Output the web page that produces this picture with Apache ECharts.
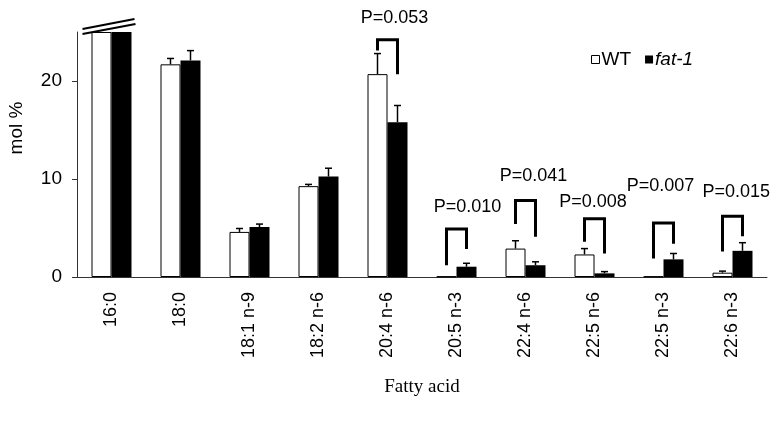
<!DOCTYPE html>
<html><head><meta charset="utf-8">
<script src="https://cdn.jsdelivr.net/npm/echarts@6/dist/echarts.min.js"></script>
<style>html,body{margin:0;padding:0;background:#fff}#c{width:784px;height:424px}</style>
</head><body><div id="c"></div>
<script>
const categories = ['16:0','18:0','18:1 n-9','18:2 n-6','20:4 n-6','20:5 n-3','22:4 n-6','22:5 n-6','22:5 n-3','22:6 n-3'];
const wtValues  = [25, 21.7, 4.6, 9.27, 20.7, 0.05, 2.9, 2.3, 0.05, 0.44];
const wtErr     = [0, 0.6, 0.35, 0.18, 2.1, 0, 0.8, 0.6, 0, 0.16];
const fatValues = [25, 22.1, 5.1, 10.25, 15.8, 1.05, 1.2, 0.37, 1.8, 2.67];
const fatErr    = [0, 1.0, 0.3, 0.85, 1.7, 0.35, 0.35, 0.18, 0.6, 0.83];
const yTicks = [0, 10, 20];
// significance brackets: category index, left foot, top, right foot, label height, label
const sigCat   = [4, 5, 6, 7, 8, 9];
const sigLeft  = [23.1, 1.2, 5.4, 3.6, 1.9, 2.6];
const sigTop   = [24.2, 4.9, 7.8, 5.95, 5.5, 6.2];
const sigRight = [20.7, 2.85, 4.1, 2.4, 3.4, 4.15];
const sigLabelY = [26.4, 7.1, 10.35, 7.7, 9.3, 8.66];
const sigText  = ['P=0.053','P=0.010','P=0.041','P=0.008','P=0.007','P=0.015'];

const labelDx = [7, 11, 8, -1.5, -3, 3.7];
const FONT = 'Liberation Sans, Arial, sans-serif';
const BAR_W = 20;

const chart = echarts.init(document.getElementById('c'));

function errSeries(vals, errs, side) {
  return {
    type: 'custom', z: 5, clip: false,
    data: vals.map((v, i) => [i, v, v + errs[i], errs[i]]),
    renderItem: function (params, api) {
      if (api.value(3) <= 0) return null;
      const base = api.coord([api.value(0), api.value(1)]);
      const top = api.coord([api.value(0), api.value(2)]);
      const x = base[0] + side * BAR_W / 2;
      return { type: 'group', children: [
        { type: 'line', shape: { x1: x, y1: base[1], x2: x, y2: top[1] }, style: { stroke: '#000', lineWidth: 1.5 } },
        { type: 'line', shape: { x1: x - 3.5, y1: top[1], x2: x + 3.5, y2: top[1] }, style: { stroke: '#000', lineWidth: 1.5 } }
      ]};
    }
  };
}

const sigData = sigCat.map((c, i) => [c, sigLeft[i], sigTop[i], sigRight[i], sigLabelY[i], i]);

chart.setOption({
  animation: false,
  textStyle: { fontFamily: FONT },
  grid: { left: 77, right: 17, top: 32, bottom: 147 },
  legend: {
    left: 586, top: 45, itemWidth: 8, itemHeight: 8, itemGap: 14,
    icon: 'rect',
    textStyle: { fontSize: 19, color: '#000', fontFamily: FONT, padding: [0, 0, 0, -3],
      rich: { i: { fontStyle: 'italic', fontSize: 19, fontFamily: FONT, color: '#000' } } },
    formatter: n => n === 'fat-1' ? '{i|fat-1}' : n,
    data: [
      { name: 'WT', itemStyle: { color: '#fff', borderColor: '#000', borderWidth: 1 } },
      { name: 'fat-1', itemStyle: { color: '#000' } }
    ]
  },
  xAxis: {
    type: 'category', data: categories,
    axisLine: { lineStyle: { color: '#333', width: 1 } },
    axisTick: { length: 5, lineStyle: { color: '#333' } },
    axisLabel: { rotate: 90, margin: 15, fontSize: 18, color: '#000', fontFamily: FONT },
    name: 'Fatty acid', nameLocation: 'middle', nameGap: 101,
    nameTextStyle: { fontFamily: 'Liberation Serif, Times New Roman, serif', fontSize: 19, color: '#000' }
  },
  yAxis: {
    type: 'value', min: 0, max: 25, interval: 10,
    splitLine: { show: false },
    axisLine: { show: true, lineStyle: { color: '#333', width: 1 } },
    axisTick: { show: true, length: 5, customValues: yTicks, lineStyle: { color: '#333' } },
    axisLabel: { margin: 15, fontSize: 19, color: '#000', fontFamily: FONT, customValues: yTicks }
  },
  graphic: [{
    type: 'text', x: 17, y: 128, rotation: Math.PI / 2,
    style: { text: 'mol %', fontSize: 19, fontFamily: FONT, fill: '#000', align: 'center', verticalAlign: 'middle' }
  }],
  series: [
    { name: 'WT', type: 'bar', data: wtValues, barWidth: BAR_W, barGap: '0%',
      itemStyle: { color: '#fff', borderColor: '#000', borderWidth: 1 } },
    { name: 'fat-1', type: 'bar', data: fatValues, barWidth: BAR_W, barGap: '0%',
      itemStyle: { color: '#000' } },
    errSeries(wtValues, wtErr, -1),
    errSeries(fatValues, fatErr, 1),
    { type: 'custom', z: 6, clip: false, data: sigData,
      renderItem: function (params, api) {
        const c = api.value(0);
        const pl = api.coord([c, api.value(1)]);
        const pt = api.coord([c, api.value(2)]);
        const pr = api.coord([c, api.value(3)]);
        const pLab = api.coord([c, api.value(4)]);
        const xl = pl[0] - BAR_W / 2, xr = pl[0] + BAR_W / 2;
        const idx = api.value(5);
        return { type: 'group', children: [
          { type: 'polyline', shape: { points: [[xl, pl[1]], [xl, pt[1]], [xr, pt[1]], [xr, pr[1]]] },
            style: { stroke: '#000', lineWidth: 3, fill: null } },
          { type: 'text', x: pl[0] + labelDx[idx], y: pLab[1],
            style: { text: sigText[idx], fontSize: 18, fontFamily: FONT, fill: '#000', align: 'center', verticalAlign: 'middle' } }
        ]};
      }
    },
    { type: 'custom', z: 7, clip: false, data: [[0, 25]],
      renderItem: function (params, api) {
        const p = api.coord([api.value(0), api.value(1)]);
        return { type: 'group', children: [
          { type: 'line', shape: { x1: p[0] - 29, y1: p[1] - 3, x2: p[0] + 23, y2: p[1] - 13 }, style: { stroke: '#000', lineWidth: 2 } },
          { type: 'line', shape: { x1: p[0] - 29, y1: p[1] + 2, x2: p[0] + 24, y2: p[1] - 8 }, style: { stroke: '#000', lineWidth: 2 } }
        ]};
      }
    }
  ]
});
</script></body></html>
